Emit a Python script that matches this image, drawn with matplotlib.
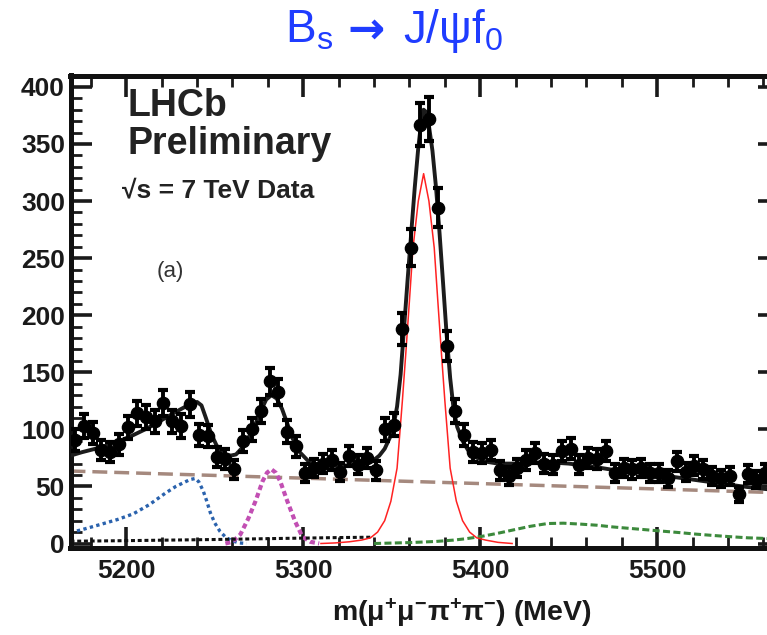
import numpy as np
import matplotlib
matplotlib.use("Agg")
import matplotlib.pyplot as plt
from matplotlib.ticker import MultipleLocator

plt.rcParams.update({
    "font.family": ["Liberation Sans", "DejaVu Sans"],
    "font.weight": "bold",
    "mathtext.fontset": "custom",
    "mathtext.rm": "Liberation Sans:normal",
    "mathtext.it": "Liberation Sans:italic:normal",
    "mathtext.bf": "Liberation Sans:bold",
    "mathtext.sf": "Liberation Sans:normal",
})

# ---------------- data ----------------
bin_centres = np.arange(5171, 5562, 5)          # 5 MeV bins
counts = [91, 103, 97, 82, 80, 87, 102, 114, 111, 107,
          123, 107, 103, 122, 95, 94, 76, 74, 65, 90,
          100, 116, 142, 133, 98, 85, 62, 66, 70, 73,
          63, 77, 69, 75, 64, 100, 104, 188, 259, 367,
          372, 294, 173, 116, 95, 80, 79, 82, 64, 59,
          66, 73, 79, 70, 69, 81, 83, 69, 75, 74,
          81, 62, 66, 65, 66, 62, 62, 57, 72, 63,
          68, 65, 59, 57, 59, 43, 61, 56, 62]

# total fit
total_m = [5168.5, 5175, 5185, 5195, 5204, 5212, 5221, 5230, 5236, 5240, 5242.5, 5245, 5248,
           5251, 5255, 5259, 5262, 5265, 5268, 5272, 5276, 5279, 5282, 5285, 5288, 5291, 5294,
           5298, 5303, 5308, 5315, 5322, 5328, 5334, 5339, 5343, 5346, 5349, 5351, 5353, 5355,
           5357, 5359, 5361, 5363, 5365, 5366.5, 5368, 5369.5, 5371, 5373, 5375, 5377, 5379,
           5381, 5383, 5385, 5387, 5390, 5393, 5397, 5402, 5410, 5420, 5430, 5440, 5450, 5465,
           5477, 5490, 5506, 5520, 5534, 5548, 5568.5]
total_v = [77, 80, 84, 89, 95, 101, 109, 117, 122, 124, 121, 110, 96,
           86, 79, 77, 78, 83, 90, 101, 116, 126, 130, 127, 118, 105, 92,
           80, 72, 69, 68, 68, 69, 70, 72, 77, 83, 93, 103, 120, 148,
           190, 232, 272, 312, 347, 367, 380, 378, 366, 344, 312, 272, 228,
           183, 145, 117, 102, 90, 82, 76, 72, 70, 70, 71, 71, 70, 67,
           64, 62, 59, 56, 53, 50, 46.5]

# signal (red)
sig_m = [5310, 5318, 5326, 5333, 5338, 5342, 5346, 5349.5, 5353, 5356, 5358, 5360, 5362, 5365,
         5368, 5371, 5374, 5376, 5378, 5380, 5383, 5386.5, 5390, 5394, 5398, 5403, 5410, 5418]
sig_v = [0, 0.5, 1.5, 3, 5, 10, 20, 37, 66, 125, 168, 213, 259, 300,
         324, 300, 259, 213, 168, 125, 66, 37, 20, 10, 5, 3, 1, 0]

# combinatorial background (brown dashed)
comb_m = [5168.5, 5568.5]
comb_v = [63.5, 44.5]

# partially reconstructed background (blue dotted)
part_m = [5168.5, 5177, 5185, 5195, 5204, 5213, 5222, 5228, 5232, 5236, 5239, 5241, 5243.5,
          5245.5, 5247.5, 5250, 5253, 5256.5, 5260.5, 5264, 5268]
part_v = [9.5, 13, 16.5, 21, 26, 34, 44, 50, 53, 56, 57, 54, 46,
          37, 27, 18, 10.5, 5, 2, 0.5, 0]

# B0 -> J/psi pi pi (magenta dotted)
bd_m = [5256, 5260, 5264.5, 5269, 5273, 5277, 5279.5, 5282, 5284.5, 5287, 5291, 5295.5,
        5299.5, 5304, 5309]
bd_v = [0, 1.5, 8, 22, 37, 54.5, 62, 65, 62, 54.5, 37, 19, 6, 1.5, 0]

# misidentified background (black dotted)
mis_m = [5168.5, 5200, 5250, 5290, 5320, 5338]
mis_v = [2, 2.5, 3.5, 4.5, 5.2, 5.5]

# higher-mass background (green dashed)
hi_m = [5340, 5360, 5375, 5385, 5392, 5400, 5410, 5419, 5428, 5438, 5447, 5456.5, 5466, 5475,
        5484, 5494, 5503, 5513, 5522, 5532, 5541, 5551, 5568.5]
hi_v = [0, 0.8, 1.8, 3, 4.2, 6, 9, 12, 15, 17.5, 17.8, 17, 16, 14.5,
        13.3, 12, 10.8, 9.5, 8.2, 7, 6, 5, 4]

x_ticks_major = 100
y_ticks_major = 50

# ---------------- figure ----------------
W, H = 767, 635
fig = plt.figure(figsize=(W / 100, H / 100), dpi=100)
ax = fig.add_axes([70.5 / W, 1 - 547.5 / H, 708 / W, 472 / H])

ax.plot(comb_m, comb_v, color="#a5897e", lw=2.5, dashes=(4.3, 2.0), zorder=2)
ax.plot(part_m, part_v, color="#2a62ad", lw=2.4, dashes=(1, 1), zorder=2)
ax.plot(bd_m, bd_v, color="#c24fb3", lw=3.0, dashes=(1.2, 0.8), zorder=2)
ax.plot(mis_m, mis_v, color="#111111", lw=2.2, dashes=(1.3, 0.9), zorder=2)
ax.plot(hi_m, hi_v, color="#3c8a3c", lw=2.2, dashes=(2.3, 1.1), zorder=2)
ax.plot(sig_m, sig_v, color="#ff2222", lw=1.1, zorder=3)
ax.plot(total_m, total_v, color="#1c1c1c", lw=2.8, zorder=4)

ax.errorbar(bin_centres, counts, yerr=np.sqrt(counts), fmt="o", color="black",
            ms=8.8, elinewidth=2.8, capsize=3.3, capthick=3.0, zorder=5)

ax.set_xlim(5168.5, 5568.5)
ax.set_ylim(-3.5, 410)
ax.xaxis.set_major_locator(MultipleLocator(x_ticks_major))
ax.xaxis.set_minor_locator(MultipleLocator(20))
ax.yaxis.set_major_locator(MultipleLocator(y_ticks_major))
ax.yaxis.set_minor_locator(MultipleLocator(10))
ax.tick_params(which="both", direction="in", top=True, right=True, colors="#1a1a1a")
ax.tick_params(which="major", length=15, width=2.6, labelsize=19)
ax.tick_params(which="minor", length=8, width=2.0)
ax.tick_params(axis="x", which="major", pad=8.5)
ax.tick_params(axis="y", which="major", pad=4)
for s in ax.spines.values():
    s.set_linewidth(3.6)
    s.set_color("#111111")

# texts
def fx(px):
    return px / W

def fy(py):
    return 1 - py / H

fig.text(fx(128), fy(116), "LHCb", fontsize=27, color="#222222", va="baseline")
fig.text(fx(128), fy(154), "Preliminary", fontsize=27, color="#222222", va="baseline")
fig.text(fx(122), fy(197), "\u221as = 7 TeV Data", fontsize=19, color="#222222",
         va="baseline")
fig.text(fx(157), fy(277), "(a)", fontsize=16, fontweight="normal", color="#333333",
         va="baseline")

fig.text(fx(592), fy(621), r"$\mathbf{m(\mu^{+}\mu^{-}\pi^{+}\pi^{-})\ (MeV)}$",
         fontsize=20.5, color="#1a1a1a", ha="right", va="baseline")

title_col = "#1f3cff"
fig.text(fx(333), fy(43), r"B$_{\mathrm{s}}$", fontsize=33, fontweight="normal",
         color=title_col, ha="right", va="baseline")
fig.text(fx(366), fy(43), "\u2192", fontsize=32, fontweight="bold", color=title_col,
         ha="center", va="baseline", family=["DejaVu Sans"])
fig.text(fx(403), fy(43), r"J/ψf$_{\mathrm{0}}$", fontsize=33, fontweight="normal",
         color=title_col, ha="left", va="baseline")

fig.savefig("out.png", dpi=100)
